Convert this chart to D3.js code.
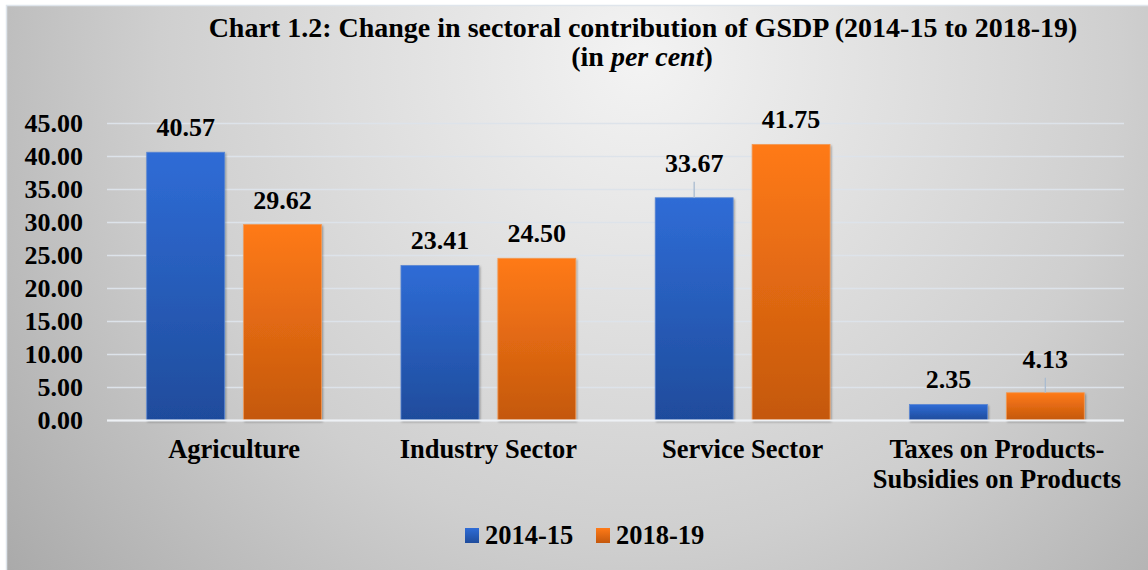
<!DOCTYPE html>
<html>
<head>
<meta charset="utf-8">
<script src="https://cdn.jsdelivr.net/npm/d3@7"></script>
<style>
  html, body { margin: 0; padding: 0; background: #ffffff; }
  svg { display: block; }
  text { font-family: "Liberation Serif", "Times New Roman", serif; font-weight: bold; fill: #000; }
</style>
</head>
<body>
<svg id="chart" width="1148" height="570"></svg>
<script>
// ---- data ----
const categories = ["Agriculture", "Industry Sector", "Service Sector", "Taxes on Products-\nSubsidies on Products"];
const seriesNames = ["2014-15", "2018-19"];
const values2014 = [40.57, 23.41, 33.67, 2.35];
const values2018 = [29.62, 24.50, 41.75, 4.13];
const yTicks = [0, 5, 10, 15, 20, 25, 30, 35, 40, 45];

// ---- layout / style config ----
const W = 1148, H = 570;
const plot = { left: 107, right: 1124, top: 123, bottom: 420 };
const colors = [["#2f6cd6", "#1f4c9c"], ["#ff7a17", "#c4580d"]];
// extra lift for labels that Excel shows with leader lines
const leaderLabels = { "2-0": 26, "3-1": 25 };

const svg = d3.select("#chart");
const defs = svg.append("defs");

const bg = defs.append("radialGradient").attr("id", "bg")
  .attr("gradientUnits", "userSpaceOnUse")
  .attr("cx", 640).attr("cy", 60).attr("r", 830);
bg.append("stop").attr("offset", 0).attr("stop-color", "#f3f3f3");
bg.append("stop").attr("offset", 0.58).attr("stop-color", "#cfcfcf");
bg.append("stop").attr("offset", 1).attr("stop-color", "#a8a8a8");

colors.forEach((c, i) => {
  const g = defs.append("linearGradient").attr("id", "bar" + i)
    .attr("x1", 0).attr("y1", 0).attr("x2", 0).attr("y2", 1);
  g.append("stop").attr("offset", 0).attr("stop-color", c[0]);
  g.append("stop").attr("offset", 1).attr("stop-color", c[1]);
});

const sh = defs.append("filter").attr("id", "shadow")
  .attr("x", "-10%").attr("y", "-10%").attr("width", "130%").attr("height", "130%");
sh.append("feDropShadow").attr("dx", 1).attr("dy", 1.5).attr("stdDeviation", 1.2)
  .attr("flood-color", "#000").attr("flood-opacity", 0.35);

// background
svg.append("rect").attr("x", 0).attr("y", 0).attr("width", W).attr("height", H).attr("fill", "#ffffff");
svg.append("rect").attr("x", 6.5).attr("y", 5.5).attr("width", W + 10).attr("height", H + 10)
  .attr("fill", "url(#bg)").attr("stroke", "#dfe5ec").attr("stroke-width", 1.5);

// title
const title = svg.append("text").attr("text-anchor", "middle").style("font-size", "28px");
title.append("tspan").attr("x", 643).attr("y", 37)
  .text("Chart 1.2: Change in sectoral contribution of GSDP (2014-15 to 2018-19)");
const t2 = svg.append("text").attr("text-anchor", "middle").attr("x", 642).attr("y", 66).style("font-size", "28px");
t2.append("tspan").text("(in ");
t2.append("tspan").style("font-style", "italic").text("per cent");
t2.append("tspan").text(")");

// scales
const x0 = d3.scaleBand().domain(d3.range(categories.length))
  .range([plot.left, plot.right]).paddingInner(0).paddingOuter(0);
const x1 = d3.scaleBand().domain([0, 1]).range([0, x0.bandwidth()])
  .paddingInner(0.196).paddingOuter(0.41);
const y = d3.scaleLinear().domain([0, 45]).range([plot.bottom, plot.top]);

// gridlines + tick labels
const yAxis = d3.axisLeft(y).tickValues(yTicks).tickSize(-(plot.right - plot.left)).tickFormat(d3.format(".2f"));
const ga = svg.append("g").attr("transform", `translate(${plot.left},0)`).call(yAxis);
ga.attr("font-family", null).attr("font-size", null);
ga.select(".domain").remove();
ga.selectAll(".tick line").attr("stroke", "#dde3ea").attr("stroke-width", 1.5);
ga.selectAll(".tick text").attr("x", -24).attr("dy", "0.33em")
  .style("font-size", "26px").attr("fill", "#000");

// bars
const seriesData = [values2014, values2018];
const groups = svg.append("g").selectAll("g").data(categories).join("g")
  .attr("transform", (d, i) => `translate(${x0(i)},0)`);
groups.selectAll("rect").data((d, i) => seriesData.map((s, si) => ({ v: s[i], si, ci: i })))
  .join("rect")
  .attr("x", d => x1(d.si)).attr("width", x1.bandwidth())
  .attr("y", d => y(d.v)).attr("height", d => y(0) - y(d.v))
  .attr("fill", d => `url(#bar${d.si})`)
  .attr("stroke", d => d.si === 0 ? "#5a86d3" : "#f39a55").attr("stroke-width", 0.8)
  .attr("filter", "url(#shadow)");

// zero line
svg.append("line").attr("x1", plot.left).attr("x2", plot.right)
  .attr("y1", y(0) + 0.5).attr("y2", y(0) + 0.5).attr("stroke", "#eef1f5").attr("stroke-width", 2.2);

// data labels
const lab = svg.append("g");
categories.forEach((c, ci) => {
  seriesData.forEach((s, si) => {
    const cx = x0(ci) + x1(si) + x1.bandwidth() / 2;
    const top = y(s[ci]);
    const key = ci + "-" + si;
    const lift = leaderLabels[key] || 16;
    if (leaderLabels[key]) {
      lab.append("line").attr("x1", cx).attr("x2", cx)
        .attr("y1", top - lift + 10).attr("y2", top)
        .attr("stroke", "#a9bbd0").attr("stroke-width", 1.3);
    }
    lab.append("text").attr("x", cx).attr("y", top - lift)
      .attr("text-anchor", "middle").style("font-size", "26px")
      .text(d3.format(".2f")(s[ci]));
  });
});

// category labels
const cat = svg.append("g");
categories.forEach((c, ci) => {
  const lines = c.split("\n");
  const t = cat.append("text").attr("text-anchor", "middle").style("font-size", "26.5px");
  lines.forEach((ln, li) => {
    t.append("tspan").attr("x", x0(ci) + x0.bandwidth() / 2).attr("y", 458 + li * 30).text(ln);
  });
});

// legend
const legX = [465, 596];
seriesNames.forEach((n, i) => {
  svg.append("rect").attr("x", legX[i]).attr("y", 528).attr("width", 14).attr("height", 15)
    .attr("fill", `url(#bar${i})`);
  svg.append("text").attr("x", legX[i] + 20).attr("y", 544).style("font-size", "26.5px").text(n);
});
</script>
</body>
</html>
